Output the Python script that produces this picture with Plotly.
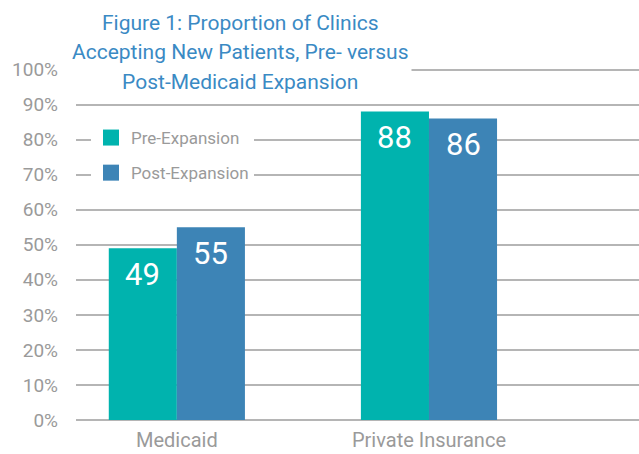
import plotly.graph_objects as go

categories = ["Medicaid", "Private Insurance"]
series_names = ["Pre-Expansion", "Post-Expansion"]
pre_values = [49, 88]
post_values = [55, 86]
tick_values = [0, 10, 20, 30, 40, 50, 60, 70, 80, 90, 100]
tick_labels = ["0%", "10%", "20%", "30%", "40%", "50%", "60%", "70%", "80%", "90%", "100%"]
title_lines = ["Figure 1: Proportion of Clinics",
               "Accepting New Patients, Pre- versus",
               "Post-Medicaid Expansion"]

TEAL = "#00B3AE"
BLUE = "#3D84B6"
GRAY_TXT = "#9a9a9a"
GRID = "#b5b5b5"
TITLE_C = "#3A8AC4"
FONT = "Roboto, sans-serif"

BARGAP = 0.46
half = (1 - BARGAP) / 4  # centre offset of each bar within its group

fig = go.Figure()
for k, (name, vals, col) in enumerate([(series_names[0], pre_values, TEAL),
                                       (series_names[1], post_values, BLUE)]):
    fig.add_trace(go.Bar(
        x=categories, y=vals, name=name, marker=dict(color=col, line=dict(width=0)),
        showlegend=False, hoverinfo="skip"))
    fig.add_trace(go.Scatter(
        x=[None], y=[None], mode="markers", name=name, legendgroup=name,
        marker=dict(symbol="square", size=17, color=col), showlegend=True))
    sign = -1 if k == 0 else 1
    for i, v in enumerate(vals):
        fig.add_annotation(
            x=i + sign * half, y=v, xref="x", yref="y", text=str(v),
            showarrow=False, yanchor="middle", xanchor="center", yshift=-26,
            font=dict(color="white", size=31, family=FONT))

fig.add_annotation(
    xref="paper", yref="paper", x=(240 - 76) / 563, y=(420 - 53) / 354,
    xanchor="center", yanchor="middle", showarrow=False,
    text="<br>".join(f"<span style='font-size:21px'>{t}</span>" for t in title_lines),
    font=dict(family=FONT, size=22.5, color=TITLE_C),
    bgcolor="white", borderpad=3, align="center")

fig.update_layout(
    width=639, height=454,
    margin=dict(l=76, r=0, t=66, b=34),
    paper_bgcolor="white", plot_bgcolor="white",
    barmode="group", bargap=BARGAP, bargroupgap=0,
    font=dict(family=FONT, color=GRAY_TXT),
    legend=dict(x=(91 - 76) / 563, y=(420 - 120) / 354, xanchor="left", yanchor="top",
                bgcolor="white", font=dict(size=17, color=GRAY_TXT, family=FONT),
                itemsizing="trace", tracegroupgap=10, traceorder="grouped"),
    xaxis=dict(range=[-0.4, 1.833], showgrid=False, showline=False, zeroline=False,
               automargin=False,
               tickfont=dict(size=20, color=GRAY_TXT), ticklabelstandoff=6, ticks=""),
    yaxis=dict(range=[0, 101], tickvals=tick_values, ticktext=tick_labels,
               automargin=False,
               showgrid=True, gridcolor=GRID, gridwidth=1.5, zeroline=True,
               zerolinecolor=GRID, zerolinewidth=1.5, showline=False,
               tickfont=dict(size=19, color=GRAY_TXT), ticklabelstandoff=17, ticks=""),
)

fig.write_html("out.html", config={"displayModeBar": False},
               post_script="document.body.style.margin='0';")
